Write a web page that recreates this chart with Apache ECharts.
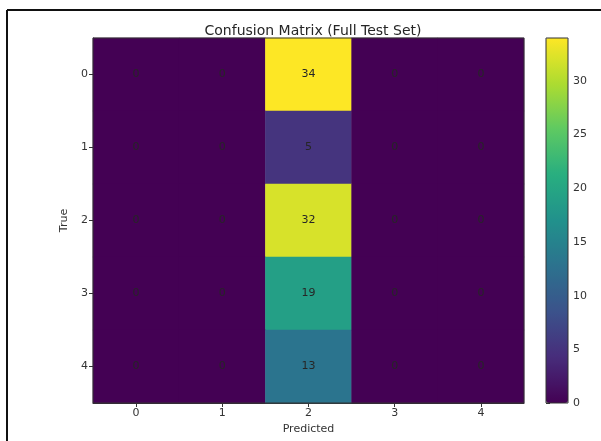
<!DOCTYPE html>
<html>
<head>
<meta charset="utf-8">
<script src="https://cdn.jsdelivr.net/npm/echarts@6/dist/echarts.min.js"></script>
<style>
html,body{margin:0;padding:0;background:#fff;}
#chart{width:601px;height:441px;}
</style>
</head>
<body>
<div id="chart"></div>
<script>
var predictedLabels = ['0', '1', '2', '3', '4'];
var trueLabels = ['0', '1', '2', '3', '4'];
// rows = true class, columns = predicted class
var row0 = [0, 0, 34, 0, 0];
var row1 = [0, 0, 5, 0, 0];
var row2 = [0, 0, 32, 0, 0];
var row3 = [0, 0, 19, 0, 0];
var row4 = [0, 0, 13, 0, 0];
var matrixRows = [row0, row1, row2, row3, row4];
var colorbarMin = 0;
var colorbarMax = 34;

var heatData = [];
matrixRows.forEach(function (row, r) {
  row.forEach(function (v, c) { heatData.push([c, r, v]); });
});

var viridis = ['#440154', '#472d7b', '#3b528b', '#2c728e', '#21918c', '#28ae80', '#5ec962', '#addc30', '#fde725'];
var font = 'DejaVu Sans';

var chart = echarts.init(document.getElementById('chart'), null, {renderer: 'canvas'});
chart.setOption({
  animation: false,
  backgroundColor: '#ffffff',
  textStyle: {fontFamily: font},
  title: {
    text: 'Confusion Matrix (Full Test Set)',
    left: 308, top: 19, textAlign: 'center',
    textStyle: {fontFamily: font, fontSize: 14, fontWeight: 'normal', color: '#262626'}
  },
  grid: [
    {left: 93, top: 38, width: 431, height: 365},
    {left: 546, top: 38, width: 22, height: 365}
  ],
  xAxis: [
    {
      type: 'category', data: predictedLabels, gridIndex: 0,
      name: 'Predicted', nameLocation: 'middle', nameGap: 18,
      nameTextStyle: {fontFamily: font, fontSize: 11, color: '#333'},
      axisLine: {show: true, lineStyle: {color: '#333', width: 1}},
      axisTick: {show: true, alignWithLabel: true, length: 4, lineStyle: {color: '#333'}},
      axisLabel: {fontFamily: font, fontSize: 11, color: '#333', margin: 5},
      splitLine: {show: false}, splitArea: {show: false}
    },
    {type: 'value', gridIndex: 1, min: 0, max: 1, show: false}
  ],
  yAxis: [
    {
      type: 'category', data: trueLabels, gridIndex: 0, inverse: true,
      name: 'True', nameLocation: 'middle', nameGap: 22,
      nameTextStyle: {fontFamily: font, fontSize: 11, color: '#333'},
      axisLine: {show: true, lineStyle: {color: '#333', width: 1}},
      axisTick: {show: true, alignWithLabel: true, length: 4, lineStyle: {color: '#333'}},
      axisLabel: {fontFamily: font, fontSize: 11, color: '#333', margin: 5},
      splitLine: {show: false}, splitArea: {show: false}
    },
    {
      type: 'value', gridIndex: 1, position: 'right',
      min: colorbarMin, max: colorbarMax, interval: 5,
      axisLine: {show: false},
      axisTick: {show: true, length: 4, lineStyle: {color: '#333'}},
      axisLabel: {fontFamily: font, fontSize: 11, color: '#333', margin: 5, showMaxLabel: false},
      splitLine: {show: false}
    }
  ],
  visualMap: {
    type: 'continuous', min: colorbarMin, max: colorbarMax,
    calculable: false, realtime: false, hoverLink: false,
    orient: 'vertical', left: 546, top: 38, padding: 0,
    itemWidth: 22, itemHeight: 365, text: null, showLabel: false,
    seriesIndex: 0,
    inRange: {color: viridis},
    z: 3
  },
  series: [{
    type: 'heatmap', xAxisIndex: 0, yAxisIndex: 0,
    data: heatData,
    label: {show: true, fontFamily: font, fontSize: 11, color: '#262626'},
    itemStyle: {borderWidth: 0},
    emphasis: {disabled: true}
  }],
  graphic: [
    {type: 'rect', shape: {x: 93, y: 38, width: 431, height: 365}, style: {fill: null, stroke: '#333', lineWidth: 1}, z: 100, silent: true},
    {type: 'rect', shape: {x: 546, y: 38, width: 22, height: 365}, style: {fill: null, stroke: '#333', lineWidth: 1}, z: 100, silent: true},
    {type: 'line', shape: {x1: 7, y1: 10, x2: 601, y2: 10}, style: {stroke: '#111', lineWidth: 2}, z: 100, silent: true},
    {type: 'line', shape: {x1: 7, y1: 10, x2: 7, y2: 441}, style: {stroke: '#111', lineWidth: 2}, z: 100, silent: true}
  ]
});
</script>
</body>
</html>
